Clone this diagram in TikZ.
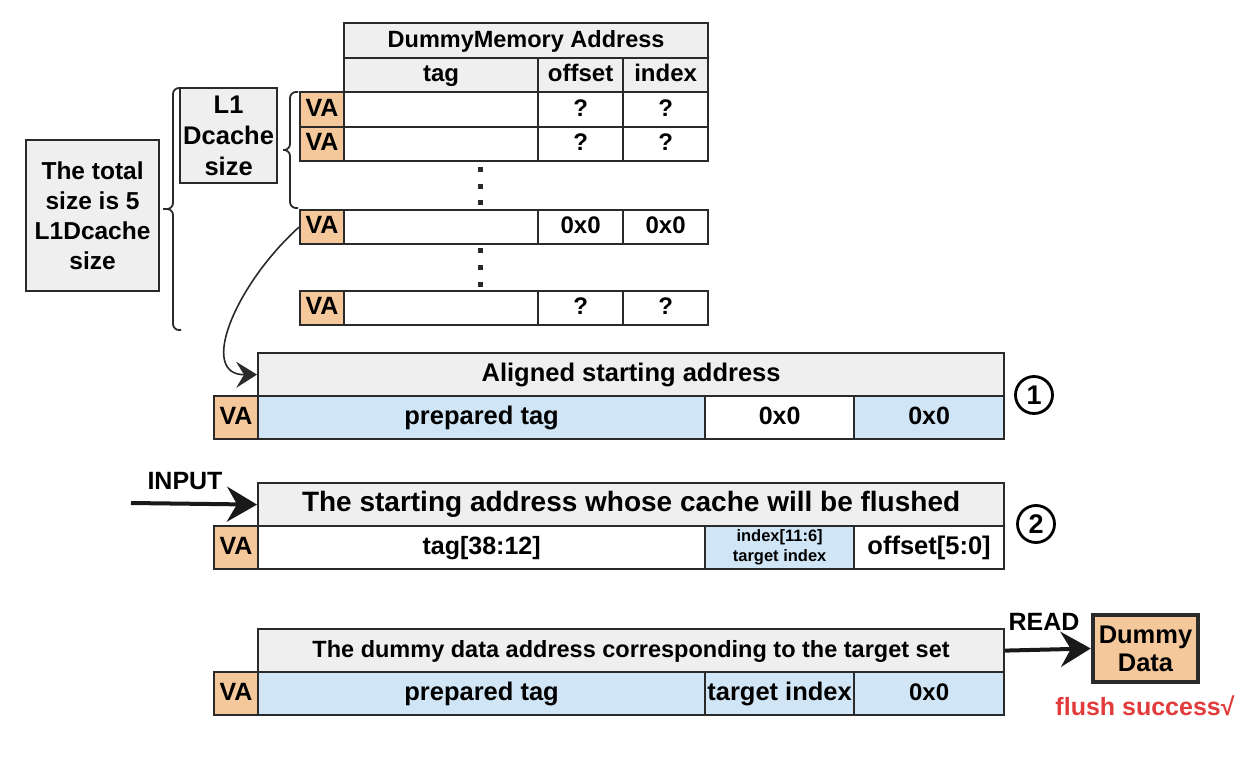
\documentclass[tikz,border=0pt]{standalone}
\usepackage{fontspec}
\setmainfont{Liberation Sans}
\usetikzlibrary{arrows.meta}
\definecolor{gr}{HTML}{EFEFEF}
\definecolor{bl}{HTML}{D0E5F5}
\definecolor{orng}{HTML}{F5C89B}
\definecolor{ln}{HTML}{2A2A2A}
\definecolor{rd}{HTML}{E23B3B}
\tikzset{
  cell/.style={draw=ln, line width=2.2pt, anchor=north west, inner sep=0pt, align=center, font=\fontsize{24}{28}\selectfont\bfseries},
  fa/.style={font=\fontsize{#1}{#1}\selectfont\bfseries},
  one/.style={text height=18pt, text depth=5pt},
  va/.style={fill=orng, fa=25},
  hd/.style={fill=gr},
  blu/.style={fill=bl},
  arr/.style={line width=4pt, draw=black!90, arrows={-Stealth[length=24pt, width=28pt, inset=8pt, scale=1.25]}},
  brc/.style={draw=ln, line width=1.8pt, rounded corners=6pt},
  num/.style={circle, draw=black, line width=2.8pt, minimum size=37pt, inner sep=0pt, fa=27},
  lbl/.style={inner sep=0pt, fa=25}
}
\newcommand\C[7]{\node[cell,one,#6,minimum width=#4pt,minimum height=#5pt] (#1) at (#2,#3) {#7};}
\begin{document}
\begin{tikzpicture}[x=1pt,y=-1pt]
\useasboundingbox (0,0) rectangle (1242,762);
% ---------- top table ----------
\C{hdr}{343}{22}{364}{35}{hd,fa=23.5}{DummyMemory Address}
\C{htag}{343}{57}{194}{34}{hd}{tag}
\C{hoff}{537}{57}{85}{34}{hd}{offset}
\C{hidx}{622}{57}{85}{34}{hd}{index}
% row 1
\C{vaa}{299}{91}{44}{35}{va}{VA}
\C{ta}{343}{91}{194}{35}{}{}
\C{oa}{537}{91}{85}{35}{}{?}
\C{ia}{622}{91}{85}{35}{}{?}
% row 2
\C{vab}{299}{126}{44}{34}{va}{VA}
\C{tb}{343}{126}{194}{34}{}{}
\C{ob}{537}{126}{85}{34}{}{?}
\C{ib}{622}{126}{85}{34}{}{?}
% row 3
\C{vac}{299}{209}{44}{34}{va}{VA}
\C{tc}{343}{209}{194}{34}{}{}
\C{oc}{537}{209}{85}{34}{}{0x0}
\C{ic}{622}{209}{85}{34}{}{0x0}
% row 4
\C{vad}{299}{290}{44}{34}{va}{VA}
\C{td}{343}{290}{194}{34}{}{}
\C{od}{537}{290}{85}{34}{}{?}
\C{id}{622}{290}{85}{34}{}{?}
% dots
\foreach \y in {170,187,203,250,267,284}
  \fill[ln] (478,\y-2.5) rectangle (483,\y+2.5);
% ---------- size boxes ----------
\node[cell,hd,minimum width=133pt,minimum height=151pt,font=\fontsize{24.5}{30}\selectfont\bfseries] (tot) at (25,139) {The total\\size is 5\\L1Dcache\\size};
\node[cell,hd,minimum width=97pt,minimum height=95pt,font=\fontsize{25.5}{31}\selectfont\bfseries] (lone) at (179,87) {L1\\Dcache\\size};
% braces
\draw[brc] (298,92) -- (290,92) -- (290,150) -- (283,150);
\draw[brc] (283,150) -- (290,150) -- (290,208) -- (298,208);
\draw[brc] (181,88) -- (173,88) -- (173,209) -- (163,209);
\draw[brc] (163,209) -- (173,209) -- (173,330) -- (181,330);
% ---------- table A ----------
\C{ha}{257}{352}{746}{43}{hd,fa=25.5}{Aligned starting address}
\C{vA}{213}{395}{44}{43}{va}{VA}
\C{pA}{257}{395}{447}{43}{blu,fa=25.5}{prepared tag}
\C{zA}{704}{395}{149}{43}{fa=25}{0x0}
\C{wA}{853}{395}{150}{43}{blu,fa=25}{0x0}
\node[num] (n1) at (1034,395) {1};
\draw[line width=1.6pt, draw=ln, arrows={-Stealth[length=16pt, width=20pt, inset=6pt, scale=1.3]}]
  (vac.west) .. controls (235,285) and (198,375) .. (ha.west);
% ---------- table B ----------
\C{hb}{257}{482}{746}{43}{hd,fa=28}{The starting address whose cache will be flushed}
\C{vB}{213}{525}{44}{43}{va}{VA}
\C{tB}{257}{525}{447}{43}{fa=25}{tag[38:12]}
\node[cell,blu,minimum width=149pt,minimum height=43pt,font=\fontsize{16.5}{20}\selectfont\bfseries] (iB) at (704,525) {index[11:6]\\target index};
\C{oB}{853}{525}{150}{43}{fa=25.5}{offset[5:0]}
\node[num] (n2) at (1036,524) {2};
\coordinate (inp) at (131,503);
\draw[arr] (inp) -- (hb.west);
\node[lbl] (inlbl) at (185,481) {INPUT};
% ---------- table C ----------
\C{hc}{257}{628}{746}{43}{hd,fa=23.5}{The dummy data address corresponding to the target set}
\C{vC}{213}{671}{44}{43}{va}{VA}
\C{pC}{257}{671}{447}{43}{blu,fa=25.5}{prepared tag}
\C{iC}{704}{671}{149}{43}{blu,fa=25.5}{target index}
\C{zC}{853}{671}{150}{43}{blu,fa=24}{0x0}
\node[cell, fill=orng, line width=4.5pt, minimum width=105pt, minimum height=67pt, anchor=center, font=\fontsize{25.5}{28}\selectfont\bfseries] (dd) at (1145.5,648.5) {Dummy\\Data};
\draw[arr] (hc.east) -- (dd.west);
\node[lbl] (rdlbl) at (1044,622) {READ};
\node[lbl, text=rd] (ok) at (1145,706) {flush success√};
\end{tikzpicture}
\end{document}
